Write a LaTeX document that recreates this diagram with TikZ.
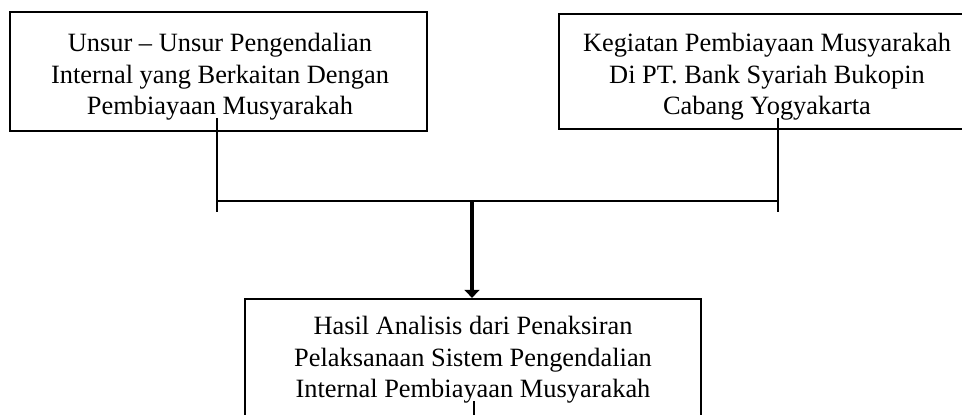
\documentclass[tikz,border=0pt]{standalone}
\usepackage{fontspec}
\setmainfont{Liberation Serif}
\usetikzlibrary{arrows.meta}
\begin{document}
\begin{tikzpicture}[x=0.75pt,y=-0.75pt,
  boxstyle/.style={draw, line width=1.6pt, rectangle, inner sep=0pt},
  txtstyle/.style={align=center, inner sep=0pt, font=\fontsize{19.8pt}{23.6pt}\selectfont},
  linkstyle/.style={line width=1.6pt},
  arrowstyle/.style={line width=2.4pt, -{Triangle[width=11pt,length=6pt]}}]
\useasboundingbox (0,0) rectangle (962,414);
% boxes
\node[boxstyle, minimum width=417*0.75pt, minimum height=119*0.75pt] (boxA) at (218.5,71.5) {};
\node[boxstyle, minimum width=416*0.75pt, minimum height=115*0.75pt] (boxB) at (767,71.5) {};
\node[boxstyle, minimum width=456*0.75pt, minimum height=130*0.75pt] (boxC) at (473,364) {};
% texts
\node[txtstyle] (textA) at (220,77) {Unsur -- Unsur Pengendalian\\Internal yang Berkaitan Dengan\\Pembiayaan Musyarakah};
\node[txtstyle] (textB) at (767,77) {Kegiatan Pembiayaan Musyarakah\\Di PT. Bank Syariah Bukopin\\Cabang Yogyakarta};
\node[txtstyle] (textC) at (473,360) {Hasil Analisis dari Penaksiran\\Pelaksanaan Sistem Pengendalian\\Internal Pembiayaan Musyarakah};
% connector points
\coordinate (aTop) at (217,118);
\coordinate (aBot) at (217,212);
\coordinate (aMid) at (217,201);
\coordinate (bTop) at (778,118);
\coordinate (bBot) at (778,212);
\coordinate (bMid) at (778,201);
\coordinate (join) at (472,201);
\coordinate (cOut) at (474,401);
\coordinate (cEnd) at (474,430);
\draw[linkstyle] (aTop) -- (aBot);
\draw[linkstyle] (bTop) -- (bBot);
\draw[linkstyle] (aMid) -- (bMid);
\draw[arrowstyle] (join) -- (join |- boxC.north);
\draw[linkstyle] (cOut) -- (cEnd);
\end{tikzpicture}
\end{document}
